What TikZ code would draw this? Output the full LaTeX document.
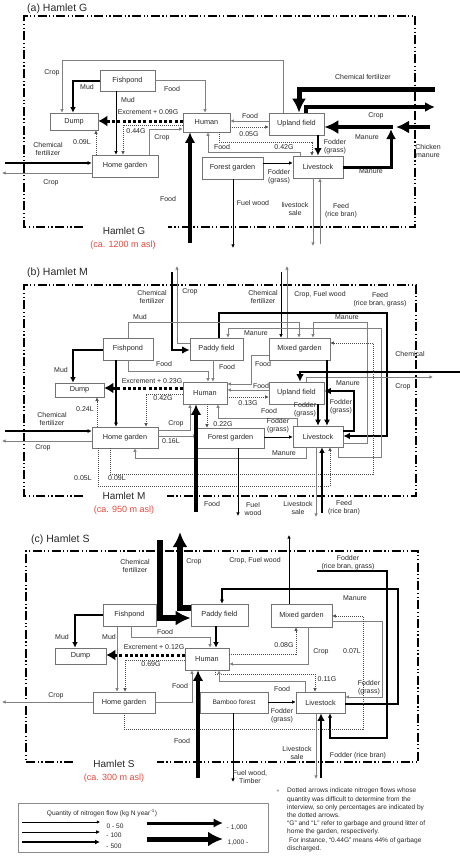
\documentclass[tikz,border=0pt]{standalone}
\usepackage{fontspec}
\setmainfont{Liberation Sans}
\usetikzlibrary{arrows.meta}
\definecolor{asl}{RGB}{232,72,60}
\definecolor{txt}{RGB}{40,40,40}
\newcommand\bnode[6]{\node[box,minimum width={(#4)-(#2)},minimum height={(#5)-(#3)}] (#1) at ({((#2)+(#4))/2},{((#3)+(#5))/2}) {#6};}
\newcommand\lb[3]{\node[lab] (#1) at (#2) {#3};}
\tikzset{
 box/.style={draw=black!55, line width=0.6pt, fill=white, inner sep=0pt, font=\fontsize{7.3}{8}\selectfont, text=txt},
 lab/.style={font=\fontsize{7}{8.3}\selectfont, text=txt, inner sep=0pt, align=center},
 hd/.style={-{Latex[length=#1pt,width=#1pt]}},
 arG/.style={draw=black!50, line width=0.7pt, hd=3.6},
 arB/.style={draw=black, line width=0.8pt, hd=3.6},
 arB2/.style={draw=black, line width=1.2pt, hd=4.2},
 arM/.style={draw=black, line width=1.8pt, hd=5.5},
 arT/.style={draw=black, line width=2.6pt, hd=7.5},
 arV/.style={draw=black, line width=3.8pt, hd=10.5},
 arD/.style={draw=black!70, line width=0.6pt, dash pattern=on 1pt off 1pt, hd=3.6},
 arX/.style={draw=black, line width=3pt, dash pattern=on 3pt off 2.2pt, -{Latex[length=9pt,width=11pt]}},
 frame/.style={draw=black, line width=1.3pt, dash pattern=on 9pt off 2.5pt on 1.2pt off 2.5pt on 1.2pt off 2.5pt},
 ttl/.style={font=\fontsize{10.5}{12}\selectfont, text=txt, inner sep=0pt, anchor=west},
 hlab/.style={font=\fontsize{10}{12}\selectfont, text=txt, inner sep=0pt},
 alab/.style={font=\fontsize{9}{11}\selectfont, text=asl, inner sep=0pt},
}
\begin{document}
\begin{tikzpicture}[x=1pt,y=-1pt,line join=miter]
\useasboundingbox (0,0) rectangle (460,862);
\fill[white] (0,0) rectangle (460,862);

%%%%%%%%%%%%%%%% (a) Hamlet G
\node[ttl] (aT) at (27,9) {(a) Hamlet G};
\draw[frame] (83,227) -- (24,227) -- (24,16) -- (415,16) -- (415,227) -- (168,227);
\node[hlab] (aH) at (124,231) {Hamlet G};
\node[alab] (aA) at (123,245) {(ca. 1200 m asl)};

\bnode{aFish}{100}{70}{155}{91}{Fishpond}
\bnode{aDump}{50}{113}{98}{130}{Dump}
\bnode{aHum}{183}{113}{230}{132}{Human}
\bnode{aUp}{269}{113}{324}{135}{Upland field}
\bnode{aHome}{92}{155}{158}{177}{Home garden}
\bnode{aFor}{202}{157}{263}{179}{Forest garden}
\bnode{aLive}{293}{156}{343}{178}{Livestock}

\draw[arG] (283,0 |- aUp.north) -- (283,60) -- (62,60) -- (62,0 |- aDump.north);
\draw[arM] (aFish.west |- 0,81) -- (73,81) -- (73,0 |- aDump.north);
\draw[arG] (aFish.east |- 0,80) -- (205,80) -- (205,0 |- aHum.north);
\draw[arB] (116,0 |- aFish.south) -- (116,0 |- aHome.north);
\draw[arX] (aHum.west |- 0,121) -- (aDump.east |- 0,121);
\draw[arD] (aHum.west |- 0,125) -- (123,125) -- (123,0 |- aHome.north);
\draw[arD] (96,0 |- aHome.north) -- (96,0 |- aDump.south);
\draw[arG] (149,0 |- aHome.north) -- (149,129) -- (aHum.west |- 0,129);
\draw[arV] (190,243) -- (190,0 |- aHum.south);
\draw[arG] (aUp.west |- 0,121) -- (aHum.east |- 0,121);
\draw[arD] (aHum.east |- 0,127) -- (aUp.west |- 0,127);
\draw[arD] (219,0 |- aHum.south) -- (219,142) -- (312,142) -- (312,0 |- aLive.north);
\draw[arG] (300,0 |- aLive.north) -- (300,152) -- (208,152) -- (208,0 |- aHum.south);
\draw[arB] (aFor.east |- 0,163) -- (aLive.west |- 0,163);
\draw[arB] (233,0 |- aFor.south) -- (233,248);
\draw[arG] (313,0 |- aLive.south) -- (313,246);
\draw[arG] (320,244) -- (320,0 |- aLive.south);
\draw[arT] (318,0 |- aUp.south) -- (318,0 |- aLive.north);
\draw[draw=black, line width=5pt, hd=14] (435,89) -- (299,89) -- (299,0 |- aUp.north);
\draw[draw=black, line width=3.5pt, hd=10] (306,0 |- aUp.north) -- (306,107) -- (435,107);
\draw[draw=black, line width=4.5pt, hd=13] (430,127) -- (396,127);
\draw[draw=black, line width=3pt, hd=10] (aLive.east |- 0,167) -- (391,167) -- (391,129);
\draw[draw=black, line width=4.5pt, hd=14] (393,127) -- (aUp.east |- 0,127);
\draw[arB2] (5,163) -- (aHome.west |- 0,163);
\draw[arG] (aHome.west |- 0,173) -- (2,173);

\lb{a1}{52,73}{Crop}
\lb{a2}{87,87}{Mud}
\lb{a3}{172,89}{Food}
\lb{a4}{128,100}{Mud}
\lb{a5}{148,112}{Excrement + 0.09G}
\lb{a6}{136,131}{0.44G}
\lb{a7}{82,142}{0.09L}
\lb{a8}{162,138}{Crop}
\lb{a9}{168,199}{Food}
\lb{a10}{250,116}{Food}
\lb{a11}{249,134}{0.05G}
\lb{a12}{284,147}{0.42G}
\lb{a13}{222,147}{Food}
\lb{a14}{279,177}{Fodder\\(grass)}
\lb{a15}{253,203}{Fuel wood}
\lb{a16}{295,209}{livestock\\sale}
\lb{a17}{341,211}{Feed\\(rice bran)}
\lb{a18}{335,147}{Fodder\\(grass)}
\lb{a19}{363,77}{Chemical fertilizer}
\lb{a20}{376,116}{Crop}
\lb{a21}{428,151}{Chicken\\manure}
\lb{a22}{367,137}{Manure}
\lb{a23}{371,171}{Manure}
\lb{a24}{48,149}{Chemical\\fertilizer}
\lb{a25}{51,183}{Crop}

%%%%%%%%%%%%%%%% (b) Hamlet M
\node[ttl] (bT) at (27,273) {(b) Hamlet M};
\draw[frame] (83,496) -- (24,496) -- (24,285) -- (416,285) -- (416,496) -- (167,496);
\node[hlab] (bH) at (124,496) {Hamlet M};
\node[alab] (bA) at (124,510) {(ca. 950 m asl)};

\bnode{bFish}{103}{338}{153}{360}{Fishpond}
\bnode{bPad}{190}{338}{243}{360}{Paddy field}
\bnode{bMix}{269}{338}{330}{360}{Mixed garden}
\bnode{bDump}{55}{383}{104}{397}{Dump}
\bnode{bHum}{183}{382}{227}{404}{Human}
\bnode{bUp}{269}{382}{324}{404}{Upland field}
\bnode{bHome}{92}{427}{158}{448}{Home garden}
\bnode{bFor}{197}{428}{264}{448}{Forest garden}
\bnode{bLive}{293}{426}{343}{447}{Livestock}

\draw[arT] (172,272) -- (172,350) -- (bPad.west |- 0,350);
\draw[arG] (bPad.west |- 0,343) -- (177,343) -- (177,266);
\draw[arB] (281,272) -- (281,0 |- bMix.north);
\draw[arG] (287,0 |- bMix.north) -- (287,266);
\draw[draw=black, line width=2.2pt, hd=6.5] (219,0 |- bPad.north) -- (219,313) -- (387,313) -- (387,436) -- (bLive.east |- 0,436);
\draw[arG] (128,0 |- bFish.north) -- (128,322) -- (299,322) -- (299,0 |- bMix.north);
\draw[arG] (338,0 |- bLive.south) -- (338,457) -- (381,457) -- (381,328) -- (228,328) -- (228,0 |- bPad.north);
\draw[arG] (bLive.east |- 0,443) -- (367,443) -- (367,322) -- (313,322) -- (313,0 |- bMix.north);
\draw[arT] (460,372) -- (300,372) -- (300,0 |- bUp.north);
\draw[arG] (306,0 |- bUp.north) -- (306,377) -- (433,377);
\draw[draw=black, line width=2.2pt, hd=6.5] (bLive.east |- 0,431) -- (354,431) -- (354,391) -- (bUp.east |- 0,391);
\draw[draw=black, line width=2pt, hd=6] (318,0 |- bUp.south) -- (318,0 |- bLive.north);
\draw[draw=black, line width=2pt, hd=6] (327,0 |- bMix.south) -- (327,0 |- bLive.north);
\draw[arG] (bMix.west |- 0,355) -- (251,355) -- (251,384) -- (bHum.east |- 0,384);
\draw[arG] (bUp.west |- 0,390) -- (bHum.east |- 0,390);
\draw[arD] (bHum.east |- 0,397) -- (bUp.west |- 0,397);
\draw[arG] (297,0 |- bLive.north) -- (297,418) -- (218,418) -- (218,0 |- bHum.south);
\draw[arM] (bFish.west |- 0,350) -- (73,350) -- (73,0 |- bDump.north);
\draw[arG] (128,0 |- bFish.south) -- (128,371) -- (208,371) -- (208,0 |- bHum.north);
\draw[arB2] (116,0 |- bFish.south) -- (116,0 |- bHome.north);
\draw[arG] (213,0 |- bPad.south) -- (213,0 |- bHum.north);
\draw[arX] (bHum.west |- 0,388) -- (bDump.east |- 0,388);
\draw[arD] (bHum.west |- 0,394) -- (146,394) -- (146,0 |- bHome.north);
\draw[arD] (97,0 |- bHome.north) -- (97,0 |- bDump.south);
\draw[arB2] (5,431) -- (bHome.west |- 0,431);
\draw[arG] (bHome.west |- 0,441) -- (2,441);
\draw[arG] (bHome.east |- 0,430) -- (190,430) -- (190,0 |- bHum.south);
\draw[arD] (207,0 |- bHum.south) -- (207,0 |- bFor.north);
\draw[arB] (bFor.east |- 0,437) -- (bLive.west |- 0,437);
\draw[arG] (306,0 |- bLive.south) -- (306,458) -- (135,458) -- (135,0 |- bHome.south);
\draw[arG] (bHome.east |- 0,436) -- (bFor.west |- 0,436);
\draw[arD] (98,0 |- bHome.south) -- (98,486) -- (330,486) -- (330,0 |- bLive.south);
\draw[arD] (110,0 |- bHome.south) -- (110,474) -- (373,474) -- (373,343) -- (bMix.east |- 0,343);
\draw[arV] (196,512) -- (196,0 |- bHum.south);
\draw[arB] (238,0 |- bFor.south) -- (238,516);
\draw[arG] (316,0 |- bLive.south) -- (316,517);
\draw[arM] (322,513) -- (322,0 |- bLive.south);

\lb{b1}{152,297}{Chemical\\fertilizer}
\lb{b2}{190,292}{Crop}
\lb{b3}{263,297}{Chemical\\fertilizer}
\lb{b4}{320,295}{Crop, Fuel wood}
\lb{b5}{380,300}{Feed\\(rice bran, grass)}
\lb{b6}{140,317}{Mud}
\lb{b7}{347,317}{Manure}
\lb{b8}{256,333}{Manure}
\lb{b9}{410,354}{Chemical}
\lb{b10}{403,387}{Crop}
\lb{b11}{348,383}{Manure}
\lb{b12}{305,410}{Fodder\\(grass)}
\lb{b13}{341,407}{Fodder\\(grass)}
\lb{b14}{263,364}{Food}
\lb{b15}{261,386}{Food}
\lb{b16}{248,403}{0.13G}
\lb{b17}{61,370}{Mud}
\lb{b18}{164,364}{Food}
\lb{b19}{227,367}{Food}
\lb{b20}{152,381}{Excrement + 0.23G}
\lb{b21}{163,398}{0.42G}
\lb{b22}{85,409}{0.24L}
\lb{b23}{52,419}{Chemical\\fertilizer}
\lb{b24}{43,448}{Crop}
\lb{b25}{176,424}{Crop}
\lb{b26}{223,424}{0.22G}
\lb{b27}{269,411}{Food}
\lb{b28}{278,426}{Fodder\\(grass)}
\lb{b29}{284,453}{Manure}
\lb{b30}{171,441}{0.16L}
\lb{b31}{83,478}{0.05L}
\lb{b32}{117,478}{0.09L}
\lb{b33}{212,504}{Food}
\lb{b34}{253,509}{Fuel\\wood}
\lb{b35}{298,508}{Livestock\\sale}
\lb{b36}{344,508}{Feed\\(rice bran)}

%%%%%%%%%%%%%%%% (c) Hamlet S
\node[ttl] (cT) at (31,540) {(c) Hamlet S};
\draw[frame] (73,762) -- (26,762) -- (26,551) -- (418,551) -- (418,762) -- (157,762);
\node[hlab] (cH) at (114,764) {Hamlet S};
\node[alab] (cA) at (114,778) {(ca. 300 m asl)};

\bnode{cFish}{103}{604}{156}{626}{Fishpond}
\bnode{cPad}{191}{604}{248}{626}{Paddy field}
\bnode{cMix}{271}{604}{332}{627}{Mixed garden}
\bnode{cDump}{55}{648}{106}{664}{Dump}
\bnode{cHum}{185}{648}{229}{670}{Human}
\bnode{cHome}{93}{692}{155}{713}{Home garden}
\bnode{cBam}{200}{692}{268}{713}{\fontsize{6.6}{7}\selectfont Bamboo forest}
\bnode{cLive}{296}{692}{345}{713}{Livestock}

\draw[draw=black, line width=5.5pt, hd=15] (160,540) -- (160,618) -- (cPad.west |- 0,618);
\draw[draw=black, line width=6.5pt, hd=15] (cPad.west |- 0,608) -- (180,608) -- (180,532);
\draw[arB] (289,0 |- cMix.north) -- (289,535);
\draw[arB2] (317,571) -- (387,571) -- (387,738) -- (330,738) -- (330,0 |- cLive.south);
\draw[arB2] (cLive.east |- 0,704) -- (398,704) -- (398,589) -- (222,589) -- (222,0 |- cPad.north);
\draw[arG] (cMix.east |- 0,621) -- (382,621) -- (382,697) -- (cLive.east |- 0,697);
\draw[arD] (124,0 |- cHome.south) -- (124,729) -- (363,729) -- (363,616) -- (cMix.east |- 0,616);
\draw[arG] (308,0 |- cMix.south) -- (308,664) -- (cHum.east |- 0,664);
\draw[arD] (cHum.east |- 0,654) -- (296,654) -- (296,0 |- cMix.south);
\draw[arD] (215,0 |- cHum.south) -- (215,674) -- (315,674) -- (315,0 |- cLive.north);
\draw[arG] (305,0 |- cLive.north) -- (305,681) -- (219,681) -- (219,0 |- cHum.south);
\draw[arB] (cBam.east |- 0,702) -- (cLive.west |- 0,702);
\draw[arG] (cHome.east |- 0,702) -- (192,702) -- (192,0 |- cHum.south);
\draw[arV] (198,778) -- (198,0 |- cHum.south);
\draw[arM] (cFish.west |- 0,615) -- (75,615) -- (75,0 |- cDump.north);
\draw[arG] (117,0 |- cFish.south) -- (117,0 |- cHome.north);
\draw[arG] (131,0 |- cFish.south) -- (131,637) -- (210,637) -- (210,0 |- cHum.north);
\draw[arM] (216,0 |- cPad.south) -- (216,0 |- cHum.north);
\draw[arX] (cHum.west |- 0,655) -- (cDump.east |- 0,655);
\draw[arD] (cHum.west |- 0,660) -- (125,660) -- (125,0 |- cHome.north);
\draw[arG] (cHome.west |- 0,702) -- (2,702);
\draw[arB] (233,0 |- cBam.south) -- (233,782);
\draw[arG] (316,0 |- cLive.south) -- (316,779);
\draw[arT] (321,778) -- (321,0 |- cLive.south);

\lb{c1}{135,566}{Chemical\\fertilizer}
\lb{c2}{194,562}{Crop}
\lb{c3}{255,561}{Crop, Fuel wood}
\lb{c4}{348,563}{Fodder\\(rice bran, grass)}
\lb{c5}{355,598}{Manure}
\lb{c6}{369,688}{Fodder\\(grass)}
\lb{c7}{352,651}{0.07L}
\lb{c8}{321,652}{Crop}
\lb{c9}{284,645}{0.08G}
\lb{c10}{327,679}{0.11G}
\lb{c11}{282,689}{Food}
\lb{c12}{282,716}{Fodder\\(grass)}
\lb{c13}{180,686}{Food}
\lb{c14}{182,741}{Food}
\lb{c15}{62,637}{Mud}
\lb{c16}{109,637}{Mud}
\lb{c17}{165,632}{Food}
\lb{c18}{154,647}{Excrement + 0.12G}
\lb{c19}{151,664}{0.69G}
\lb{c20}{56,696}{Crop}
\lb{c21}{250,777}{Fuel wood,\\Timber}
\lb{c22}{297,753}{Livestock\\sale}
\lb{c23}{358,756}{Fodder (rice bran)}

%%%%%%%%%%%%%%%% legend
\node[draw=black!45, line width=0.8pt, minimum width=250, minimum height=49, inner sep=0] (leg) at (143,827.5) {};
\node[lab, font=\fontsize{6.6}{8}\selectfont] (lq) at (102,813) {Quantity of nitrogen flow (kg N year\textsuperscript{-1})};
\coordinate (l1a) at (22,822); \coordinate (l1b) at (100,822);
\coordinate (l2a) at (22,832); \coordinate (l2b) at (100,832);
\coordinate (l3a) at (22,842); \coordinate (l3b) at (100,842);
\coordinate (l4a) at (147,823); \coordinate (l4b) at (223,823);
\coordinate (l5a) at (147,839); \coordinate (l5b) at (223,839);
\draw[draw=black, line width=0.5pt, hd=3.2] (l1a) -- (l1b);
\draw[draw=black, line width=0.9pt, hd=3.8] (l2a) -- (l2b);
\draw[draw=black, line width=1.6pt, hd=5] (l3a) -- (l3b);
\draw[draw=black, line width=3pt, hd=9.5] (l4a) -- (l4b);
\draw[draw=black, line width=5pt, hd=15] (l5a) -- (l5b);
\node[lab, font=\fontsize{6.6}{8}\selectfont] (lt1) at (115,826) {0 - 50};
\node[lab, font=\fontsize{6.6}{8}\selectfont] (lt2) at (114,835) {- 100};
\node[lab, font=\fontsize{6.6}{8}\selectfont] (lt3) at (114,846) {- 500};
\node[lab, font=\fontsize{6.6}{8}\selectfont] (lt4) at (237,828) {- 1,000};
\node[lab, font=\fontsize{6.6}{8}\selectfont] (lt5) at (238,843) {1,000 -};

\node[lab, text=black!50] (star) at (278,792) {*};
\node[anchor=north west, inner sep=0, align=left, text=txt, font=\fontsize{6.6}{8.2}\selectfont] (note) at (287,788) {Dotted arrows indicate nitrogen flows whose\\quantity was difficult to determine from the\\interview, so only percentages are indicated by\\the dotted arrows.\\“G” and “L” refer to garbage and ground litter of\\home the garden, respectiverly.\\\ For instance, “0.44G” means 44\% of garbage\\discharged.};
\end{tikzpicture}
\end{document}
